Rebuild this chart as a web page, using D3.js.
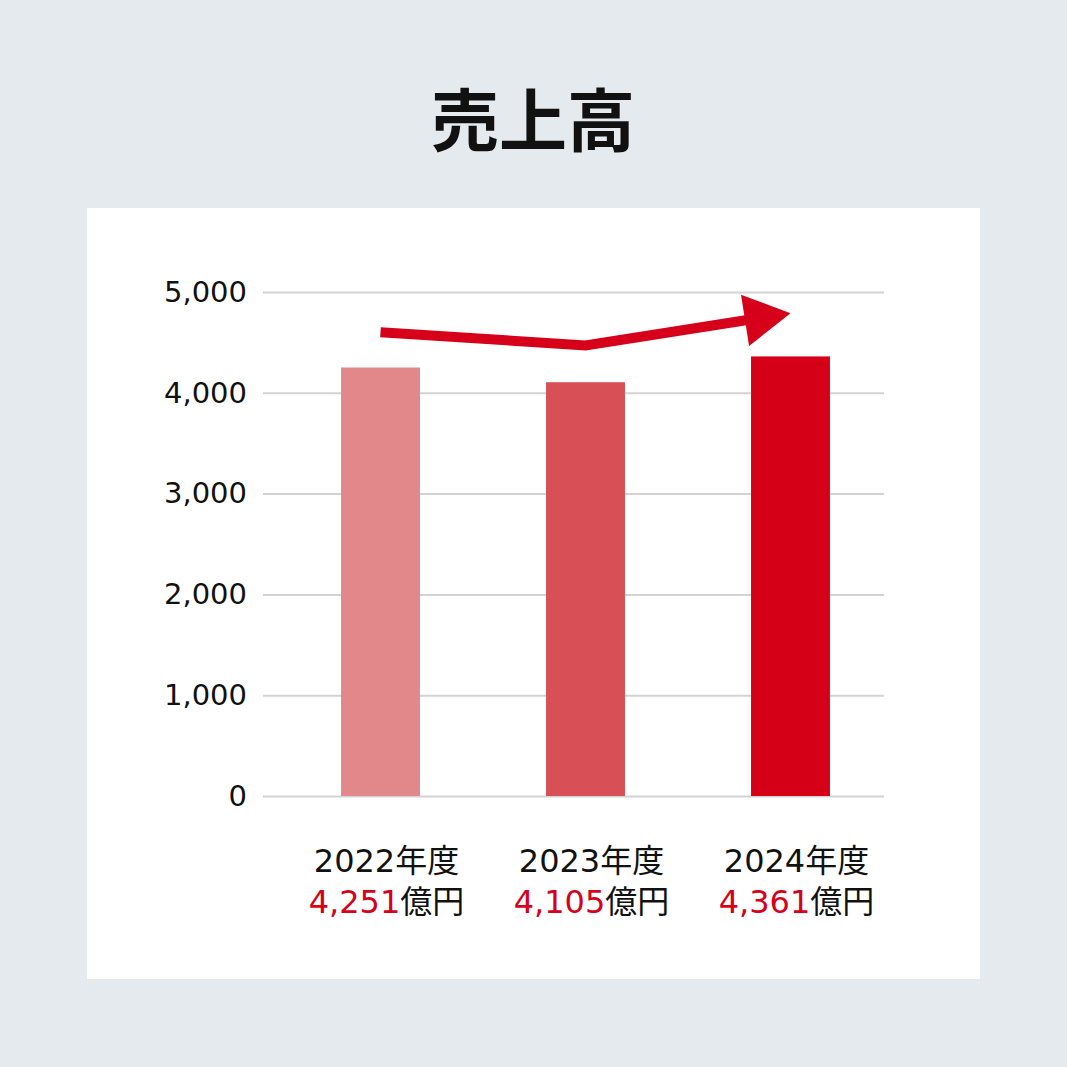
<!DOCTYPE html>
<html>
<head>
<meta charset="utf-8" />
<title>売上高</title>
<style>
    body { margin: 0; background: #e5eaee; }
    svg { display: block; }
</style>
</head>
<body>
<svg width=1067 height=1067></svg>

<script src="https://cdn.jsdelivr.net/npm/d3@7/dist/d3.min.js"></script>
<script>

    var years = ['2022年度', '2023年度', '2024年度'];
    var sales = [4251, 4105, 4361];
    var barColors = ['#e2878a', '#d84f55', '#d50017'];
    var yTicks = [0, 1000, 2000, 3000, 4000, 5000];
    // trend arrow, one point per year (value units)
    var arrowValues = [4600, 4470, 4790];

    var red = '#d7001a';
    var numFont = "'DejaVu Sans', 'Noto Sans CJK JP', sans-serif";

    var svg = d3.select('svg');

    svg.append('rect')
        .attr('width', 1067).attr('height', 1067)
        .attr('fill', '#e5eaee');

    svg.append('text')
        .attr('x', 533).attr('y', 116)
        .attr('text-anchor', 'middle')
        .attr('dominant-baseline', 'central')
        .attr('font-family', "'Noto Sans CJK JP', sans-serif")
        .attr('font-weight', 700)
        .attr('font-size', 68)
        .attr('fill', '#111')
        .text('売上高');

    svg.append('rect')
        .attr('x', 87).attr('y', 208)
        .attr('width', 893).attr('height', 771)
        .attr('fill', '#fff');

    var x = d3.scaleBand()
        .domain(years)
        .range([278, 893])
        .paddingInner(0.615)
        .paddingOuter(0.3075);

    var y = d3.scaleLinear()
        .domain([0, 5000])
        .range([796, 292]);

    // grid + labels
    var yAxis = d3.axisLeft(y)
        .tickValues(yTicks)
        .tickFormat(d3.format(','))
        .tickSize(-621)
        .tickPadding(16);

    var ga = svg.append('g')
        .attr('transform', 'translate(263,0)')
        .call(yAxis);
    ga.select('.domain').remove();
    ga.selectAll('.tick line')
        .attr('stroke', '#d3d3d3')
        .attr('stroke-width', 2);
    ga.selectAll('.tick text')
        .attr('x', -16)
        .attr('font-family', numFont)
        .attr('font-size', 29)
        .attr('fill', '#111');

    svg.append('g')
        .selectAll('rect')
        .data(sales)
        .enter()
        .append('rect')
        .attr('x', function (d, i) { return x(years[i]); })
        .attr('y', function (d) { return y(d); })
        .attr('width', x.bandwidth())
        .attr('height', function (d) { return y(0) - y(d); })
        .attr('fill', function (d, i) { return barColors[i]; });

    // arrow
    var pts = arrowValues.map(function (v, i) {
        return [x(years[i]) + x.bandwidth() / 2, y(v)];
    });
    var tip = pts[2], prev = pts[1];
    var dx = tip[0] - prev[0], dy = tip[1] - prev[1];
    var len = Math.sqrt(dx * dx + dy * dy);
    var ux = dx / len, uy = dy / len;
    var headLen = 46, headHalf = 26;
    var base = [tip[0] - ux * headLen, tip[1] - uy * headLen];

    svg.append('path')
        .attr('d', d3.line()([pts[0], pts[1], [base[0] + ux * 4, base[1] + uy * 4]]))
        .attr('fill', 'none')
        .attr('stroke', red)
        .attr('stroke-width', 10)
        .attr('stroke-linejoin', 'miter');

    svg.append('path')
        .attr('d', d3.line()([
            tip,
            [base[0] - uy * headHalf, base[1] + ux * headHalf],
            [base[0] + uy * headHalf, base[1] - ux * headHalf]
        ]) + 'Z')
        .attr('fill', red);

    // category labels
    var labels = svg.append('g')
        .selectAll('g')
        .data(years)
        .enter()
        .append('g')
        .attr('transform', function (d) {
            return 'translate(' + (x(d) + x.bandwidth() / 2 + 6) + ',0)';
        })
        .attr('font-family', numFont)
        .attr('font-size', 32)
        .attr('text-anchor', 'middle');

    labels.append('text')
        .attr('y', 872)
        .attr('fill', '#111')
        .text(function (d) { return d; });

    var t2 = labels.append('text')
        .attr('y', 913);
    t2.append('tspan')
        .attr('fill', red)
        .text(function (d, i) { return d3.format(',')(sales[i]); });
    t2.append('tspan')
        .attr('fill', '#111')
        .text('億円');

</script>
</body>
</html>
